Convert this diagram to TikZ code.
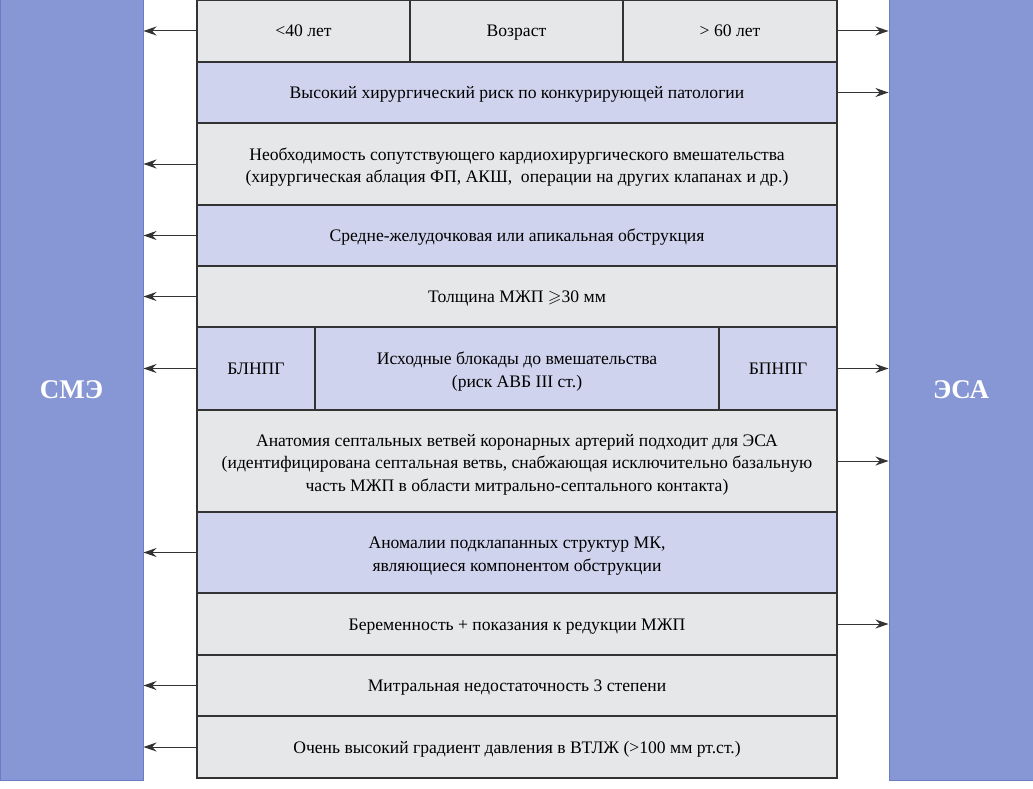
\documentclass[tikz,border=0pt]{standalone}
\usepackage{fontspec}
\usepackage{amssymb}
\setmainfont{Liberation Serif}
\usetikzlibrary{arrows.meta}
\definecolor{cgray}{HTML}{E6E7E9}
\definecolor{clav}{HTML}{D0D3EE}
\definecolor{cbar}{HTML}{8796D4}
\definecolor{cbarline}{HTML}{6A7CC8}
\definecolor{cline}{HTML}{333333}
\newcommand{\tp}{\rule{0pt}{19pt}}
\tikzset{
  cell/.style={draw=cline, line width=1.2pt, inner sep=0pt, align=center, text=black,
    font=\fontsize{17.6}{22.5}\selectfont},
  gcell/.style={cell, fill=cgray},
  lcell/.style={cell, fill=clav},
  one/.style={text height=15pt, text depth=3pt},
  bar/.style={draw=cbarline, fill=cbar, line width=1pt, text=white, inner sep=0pt,
    font=\fontsize{27}{30}\selectfont\bfseries},
  arr/.style={draw=cline, line width=1pt, -{Stealth[length=13pt,width=9pt]}}
}
\begin{document}
\begin{tikzpicture}[x=1pt,y=-1pt]
\useasboundingbox (0,0) rectangle (1033,789);
% side bars
\node[bar, minimum width=143pt, minimum height=780pt] (sme) at (71.5,390) {СМЭ};
\node[bar, minimum width=144pt, minimum height=780pt] (esa) at (961,390) {ЭСА};
% rows
\node[gcell, one, minimum width=213pt, minimum height=62pt] (r1a) at (303.5,31) {<40 лет};
\node[gcell, one, minimum width=213pt, minimum height=62pt] (r1b) at (516.5,31) {Возраст};
\node[gcell, one, minimum width=214pt, minimum height=62pt] (r1c) at (730,31) {> 60 лет};
\node[lcell, one, minimum width=640pt, minimum height=61pt] (r2) at (517,92.5) {Высокий хирургический риск по конкурирующей патологии};
\node[gcell, minimum width=640pt, minimum height=82pt] (r3) at (517,164) {\tp Необходимость сопутствующего кардиохирургического вмешательства\\(хирургическая аблация ФП, АКШ,\ \ операции на других клапанах и др.)};
\node[lcell, one, minimum width=640pt, minimum height=61pt] (r4) at (517,235.5) {Средне-желудочковая или апикальная обструкция};
\node[gcell, one, minimum width=640pt, minimum height=61pt] (r5) at (517,296.5) {Толщина МЖП $\geqslant$30 мм};
\node[lcell, one, minimum width=118pt, minimum height=83pt] (r6a) at (256,368.5) {БЛНПГ};
\node[lcell, minimum width=404pt, minimum height=83pt] (r6b) at (517,368.5) {\tp Исходные блокады до вмешательства\\(риск АВБ III ст.)};
\node[lcell, one, minimum width=118pt, minimum height=83pt] (r6c) at (778,368.5) {БПНПГ};
\node[gcell, minimum width=640pt, minimum height=102pt] (r7) at (517,461) {\tp Анатомия септальных ветвей коронарных артерий подходит для ЭСА\\(идентифицирована септальная ветвь, снабжающая исключительно базальную\\часть МЖП в области митрально-септального контакта)};
\node[lcell, minimum width=640pt, minimum height=81pt] (r8) at (517,552.5) {\tp Аномалии подклапанных структур МК,\\являющиеся компонентом обструкции};
\node[gcell, one, minimum width=640pt, minimum height=62pt] (r9) at (517,624) {Беременность + показания к редукции МЖП};
\node[gcell, one, minimum width=640pt, minimum height=61pt] (r10) at (517,685.5) {Митральная недостаточность 3 степени};
\node[gcell, one, minimum width=640pt, minimum height=62pt] (r11) at (517,747) {Очень высокий градиент давления в ВТЛЖ (>100 мм рт.ст.)};
% arrows left
\foreach \n in {r1a,r3,r4,r5,r6a,r8,r10,r11}
  \draw[arr] (\n.west) -- (sme.east |- \n.west);
% arrows right
\foreach \n in {r1c,r2,r6c,r7,r9}
  \draw[arr] (\n.east) -- (esa.west |- \n.east);
\end{tikzpicture}
\end{document}
